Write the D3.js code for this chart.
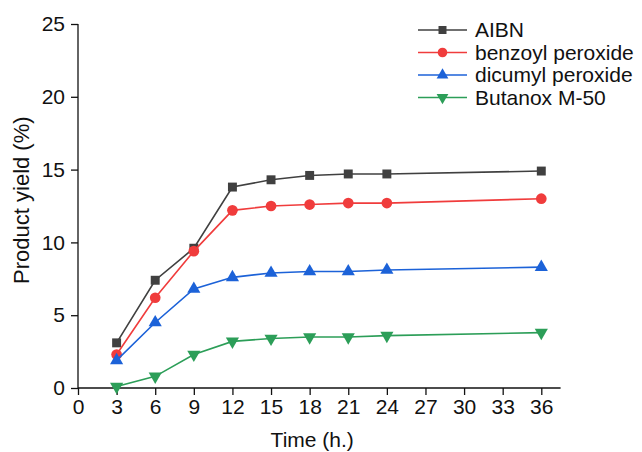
<!DOCTYPE html>
<html>
<head>
<meta charset="utf-8">
<script src="https://cdn.jsdelivr.net/npm/d3@7"></script>
<style>
  body { margin: 0; background: #fff; }
  svg { display: block; font-family: "Liberation Sans", Arial, sans-serif; }
</style>
</head>
<body>
<div id="chart"></div>
<script>
// data
var times = [3, 6, 9, 12, 15, 18, 21, 24, 36];
var aibn = [3.1, 7.4, 9.6, 13.8, 14.3, 14.6, 14.7, 14.7, 14.9];
var benzoyl = [2.3, 6.2, 9.4, 12.2, 12.5, 12.6, 12.7, 12.7, 13.0];
var dicumyl = [1.9, 4.5, 6.8, 7.6, 7.9, 8.0, 8.0, 8.1, 8.3];
var butanox = [0.1, 0.8, 2.3, 3.2, 3.4, 3.5, 3.5, 3.6, 3.8];
var seriesNames = ['AIBN', 'benzoyl peroxide', 'dicumyl peroxide', 'Butanox M-50'];
var xTicks = [0, 3, 6, 9, 12, 15, 18, 21, 24, 27, 30, 33, 36];
var yTicks = [0, 5, 10, 15, 20, 25];

(function () {
	'use strict';

	var W = 642, H = 452;
	var TICK_FONT = 21;
	var TITLE_FONT = 21;

	var series = [
		{ name: seriesNames[0], values: aibn, color: '#404040', symbol: d3.symbolSquare, size: 80, rot: 0 },
		{ name: seriesNames[1], values: benzoyl, color: '#f03c3c', symbol: d3.symbolCircle, size: 90, rot: 0 },
		{ name: seriesNames[2], values: dicumyl, color: '#1c62d8', symbol: d3.symbolTriangle, size: 75, rot: 0 },
		{ name: seriesNames[3], values: butanox, color: '#2c9e58', symbol: d3.symbolTriangle, size: 75, rot: 180 }
	];

	var x = d3.scaleLinear().domain([0, 37.5]).range([78, 560.6]);
	var y = d3.scaleLinear().domain([0, 25]).range([388, 24]);

	var svg = d3.select('#chart').append('svg')
		.attr('width', W)
		.attr('height', H);

	// x axis
	var xAxis = svg.append('g').attr('transform', 'translate(0,' + y(0) + ')');
	xAxis.call(d3.axisBottom(x).tickValues(d3.range(0, 37.6, 1.5)).tickSize(4).tickFormat(''));
	xAxis.call(d3.axisBottom(x).tickValues(xTicks).tickSize(7).tickPadding(4).tickFormat(d3.format('d')));
	xAxis.selectAll('.domain').attr('d', 'M' + x(0) + ',0H' + x(37.5));

	// y axis
	var yAxis = svg.append('g').attr('transform', 'translate(' + x(0) + ',0)');
	yAxis.call(d3.axisLeft(y).tickValues(d3.range(0, 25.1, 2.5)).tickSize(4).tickFormat(''));
	yAxis.call(d3.axisLeft(y).tickValues(yTicks).tickSize(7).tickPadding(6).tickFormat(d3.format('d')));
	yAxis.selectAll('.domain').attr('d', 'M0,' + y(0) + 'V' + y(25));

	svg.selectAll('.domain, .tick line')
		.attr('stroke', '#111')
		.attr('stroke-width', 1.3);
	svg.selectAll('.tick text')
		.attr('font-size', TICK_FONT)
		.attr('font-family', '"Liberation Sans", Arial, sans-serif')
		.attr('fill', '#111');

	// axis titles
	svg.append('text')
		.attr('x', x(18.2))
		.attr('y', 447)
		.attr('text-anchor', 'middle')
		.attr('font-size', TITLE_FONT)
		.attr('fill', '#111')
		.text('Time (h.)');

	svg.append('text')
		.attr('transform', 'translate(29,' + y(12.9) + ') rotate(-90)')
		.attr('text-anchor', 'middle')
		.attr('font-size', 22)
		.attr('fill', '#111')
		.text('Product yield (%)');

	var line = d3.line()
		.x(function (d) { return x(d[0]); })
		.y(function (d) { return y(d[1]); });

	series.forEach(function (s) {
		var pts = times.map(function (t, i) { return [t, s.values[i]]; });
		var g = svg.append('g');
		g.append('path')
			.datum(pts)
			.attr('d', line)
			.attr('fill', 'none')
			.attr('stroke', s.color)
			.attr('stroke-width', 1.6);
		g.selectAll('path.m')
			.data(pts)
			.enter().append('path')
			.attr('class', 'm')
			.attr('d', d3.symbol().type(s.symbol).size(s.size))
			.attr('transform', function (d) {
				return 'translate(' + x(d[0]) + ',' + y(d[1]) + ') rotate(' + s.rot + ')';
			})
			.attr('fill', s.color);
	});

	// legend
	var legend = svg.append('g');
	series.forEach(function (s, i) {
		var ly = 30 + i * 22.5;
		legend.append('line')
			.attr('x1', 418).attr('x2', 467)
			.attr('y1', ly).attr('y2', ly)
			.attr('stroke', s.color)
			.attr('stroke-width', 1.6);
		legend.append('path')
			.attr('d', d3.symbol().type(s.symbol).size(s.size * 0.8))
			.attr('transform', 'translate(442.5,' + ly + ') rotate(' + s.rot + ')')
			.attr('fill', s.color);
		legend.append('text')
			.attr('x', 475)
			.attr('y', ly + 7)
			.attr('font-size', TITLE_FONT)
			.attr('fill', '#111')
			.text(s.name);
	});
}());
</script>
</body>
</html>
